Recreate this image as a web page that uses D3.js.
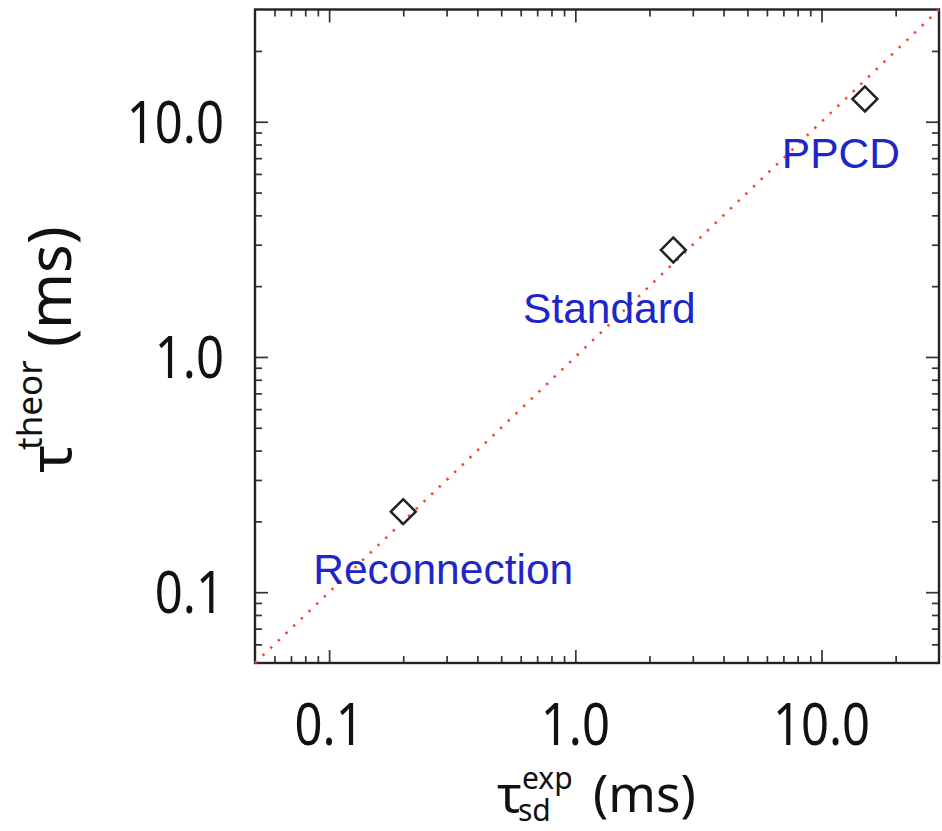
<!DOCTYPE html>
<html>
<head>
<meta charset="utf-8">
<script src="https://cdn.jsdelivr.net/npm/d3@7/dist/d3.min.js"></script>
<style>
  html, body { margin: 0; padding: 0; background: #ffffff; }
  svg { display: block; }
</style>
</head>
<body>
<svg id="chart" width="942" height="831"></svg>
<script>
// Spin-down times: experiment vs theory, three operating regimes
const categories = ["Reconnection", "Standard", "PPCD"];
const tauExp = [0.2, 2.5, 15];      // ms
const tauTheor = [0.22, 2.85, 12.5]; // ms

// Axis extent (ms) and labelled decades
const axisExtent = [0.05, 30];
const majorTicks = [0.1, 1, 10];
const majorTickLabels = ["0.1", "1.0", "10.0"];

// Reference line tau_theor = tau_exp across the full axis range
const identityLine = [0.05, 30];

const svg = d3.select("#chart");

const x = d3.scaleLog().domain(axisExtent).range([255, 939]);
const y = d3.scaleLog().domain(axisExtent).range([663, 9.5]);

const tickFont = "'Noto Sans', 'Open Sans', sans-serif";
const minorTicks = x.ticks().filter(v =>
  !majorTicks.some(m => Math.abs(m - v) < 1e-9) &&
  v > axisExtent[0] * 1.001 && v < axisExtent[1] * 0.999);

// Ticks on all four sides, pointing inward
function tickLayer(axisFn, scale, transform, values, len) {
  const g = svg.append("g")
    .attr("transform", transform)
    .call(axisFn(scale).tickValues(values).tickSize(-len).tickFormat(""));
  g.select(".domain").remove();
  g.selectAll(".tick line").attr("stroke", "#333").attr("stroke-width", 1.7);
}
const bottomT = `translate(0,${y.range()[0]})`;
const topT = `translate(0,${y.range()[1]})`;
const leftT = `translate(${x.range()[0]},0)`;
const rightT = `translate(${x.range()[1]},0)`;
[[d3.axisBottom, x, bottomT], [d3.axisTop, x, topT],
 [d3.axisLeft, y, leftT], [d3.axisRight, y, rightT]].forEach(([fn, s, t]) => {
  tickLayer(fn, s, t, majorTicks, 13);
  tickLayer(fn, s, t, minorTicks, 7);
});

// Plot frame
svg.append("rect")
  .attr("x", x.range()[0]).attr("y", y.range()[1])
  .attr("width", x.range()[1] - x.range()[0])
  .attr("height", y.range()[0] - y.range()[1])
  .attr("fill", "none").attr("stroke", "#222").attr("stroke-width", 2.4);

// Tick labels (condensed sans)
const xLabels = svg.append("g");
majorTicks.forEach((v, i) => {
  xLabels.append("text")
    .attr("transform", `translate(${x(v)},745) scale(0.83,1)`)
    .attr("text-anchor", "middle")
    .attr("font-family", tickFont).attr("font-size", 59)
    .attr("fill", "#111")
    .text(majorTickLabels[i]);
});
const yLabels = svg.append("g");
majorTicks.forEach((v, i) => {
  yLabels.append("text")
    .attr("transform", `translate(224,${y(v) + 21}) scale(0.83,1)`)
    .attr("text-anchor", "end")
    .attr("font-family", tickFont).attr("font-size", 59)
    .attr("fill", "#111")
    .text(majorTickLabels[i]);
});

// Identity line, red dotted
svg.append("path")
  .datum(identityLine)
  .attr("d", d3.line().x(d => x(d)).y(d => y(d)))
  .attr("fill", "none")
  .attr("stroke", "#ff4030")
  .attr("stroke-width", 2.6)
  .attr("stroke-dasharray", "2.4 8.2");

// Open diamond markers
const points = categories.map((c, i) => ({ name: c, ex: tauExp[i], th: tauTheor[i] }));
svg.append("g").selectAll("path")
  .data(points)
  .join("path")
  .attr("transform", d => `translate(${x(d.ex)},${y(d.th)}) rotate(45)`)
  .attr("d", d3.symbol(d3.symbolSquare, 310))
  .attr("fill", "none")
  .attr("stroke", "#222")
  .attr("stroke-width", 2.5);

// Regime labels, set below each marker
const labelOffset = { Reconnection: [40, 72], Standard: [-64, 73], PPCD: [-24, 69] };
svg.append("g").selectAll("text")
  .data(points)
  .join("text")
  .attr("x", d => x(d.ex) + labelOffset[d.name][0])
  .attr("y", d => y(d.th) + labelOffset[d.name][1])
  .attr("text-anchor", "middle")
  .attr("font-family", "'Liberation Sans', Arial, sans-serif")
  .attr("font-size", 42.5)
  .attr("fill", "#1e26c8")
  .text(d => d.name);

// Axis titles
const xt = svg.append("text")
  .attr("font-family", tickFont).attr("fill", "#111");
xt.append("tspan").attr("x", 497).attr("y", 812).attr("font-size", 51).text("τ");
xt.append("tspan").attr("x", 518).attr("y", 821).attr("font-size", 30).text("sd");
xt.append("tspan").attr("x", 522).attr("y", 789).attr("font-size", 30).text("exp");
xt.append("tspan").attr("x", 593).attr("y", 812).attr("font-size", 51).text("(ms)");

const yt = svg.append("text")
  .attr("transform", "translate(71,0) rotate(-90)")
  .attr("font-family", tickFont).attr("fill", "#111");
yt.append("tspan").attr("x", -473).attr("y", 0).attr("font-size", 58).text("τ");
yt.append("tspan").attr("x", -450).attr("y", -29).attr("font-size", 35).text("theor");
yt.append("tspan").attr("x", -347).attr("y", 0).attr("font-size", 60).text("(ms)");
</script>
</body>
</html>
